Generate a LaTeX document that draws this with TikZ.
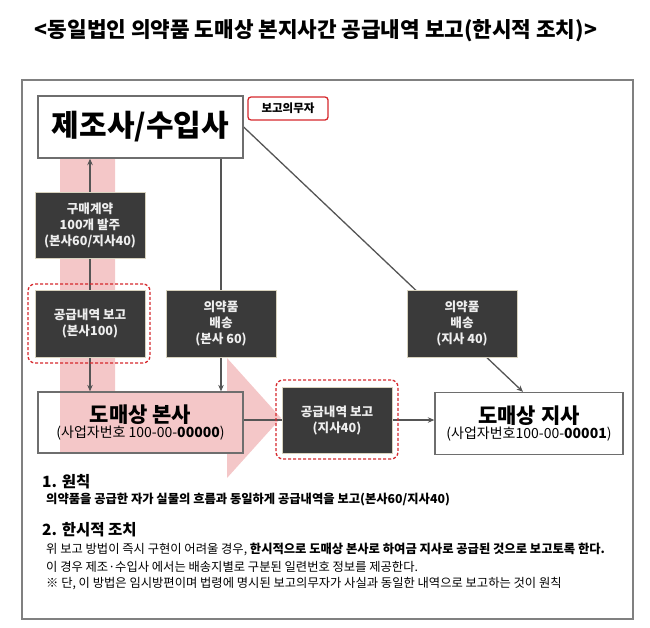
\documentclass[tikz,border=0pt]{standalone}
\usepackage{fontspec}
\setmainfont{Noto Sans CJK KR}
\usetikzlibrary{arrows.meta}
\pgfdeclarelayer{bg}
\pgfsetlayers{bg,main}
\definecolor{pinkA}{RGB}{244,199,200}
\definecolor{dfill}{RGB}{58,58,58}
\definecolor{dborder}{RGB}{215,210,190}
\definecolor{dtext}{RGB}{238,238,238}
\definecolor{redd}{RGB}{214,40,44}
\definecolor{lineg}{RGB}{85,85,85}
\definecolor{boxgray}{RGB}{110,110,110}
\definecolor{framegray}{RGB}{128,128,128}
\begin{document}
\begin{tikzpicture}[x=1pt,y=-1pt,
  darkbox/.style={draw=dborder, line width=1pt, fill=dfill, text=dtext,
    font=\fontsize{12.6}{16}\selectfont\bfseries, align=center,
    minimum width=110pt, minimum height=66pt, inner sep=0pt},
  dashbox/.style={draw=redd, dash pattern=on 3pt off 2pt, line width=1.3pt,
    rounded corners=7pt, minimum width=122pt, minimum height=79pt, inner sep=0pt},
  whitebox/.style={draw=boxgray, line width=1.3pt, align=center, inner sep=0pt},
  conn/.style={draw=lineg, line width=1.3pt},
  arr/.style={conn, -{Stealth[length=6.5pt,width=5.5pt]}},
  heading/.style={anchor=west, inner sep=0pt, font=\fontsize{15.5}{18}\selectfont\bfseries},
  body/.style={anchor=west, inner sep=0pt, font=\fontsize{12.3}{14}\selectfont}
]
\useasboundingbox (0,0) rectangle (650,627);

% title and frame
\node[inner sep=0pt, font=\fontsize{21.3}{25}\selectfont\bfseries] (title) at (316,31)
  {<동일법인 의약품 도매상 본지사간 공급내역 보고(한시적 조치)>};
\draw[framegray, line width=1.8pt] (22,80) rectangle (633,619);

% nodes
\node[whitebox, minimum width=205pt, minimum height=62pt,
  font=\fontsize{30}{32}\selectfont\bfseries] (jejo) at (140.5,127) {제조사/수입사};
\node[draw=redd, line width=1.3pt, rounded corners=3pt, minimum width=80pt,
  minimum height=23pt, inner sep=0pt, font=\fontsize{11.5}{13}\selectfont\bfseries]
  (duty) at (288,108.5) {보고의무자};

\node[darkbox] (order) at (90,225) {구매계약\\100개 발주\\(본사60/지사40)};
\node[darkbox, minimum height=67pt] (rep1) at (90,323.5) {공급내역 보고\\(본사100)};
\node[dashbox] (rep1d) at (89,323.5) {};
\node[darkbox, minimum height=67pt] (ship1) at (221,323.5) {의약품\\배송\\(본사 60)};
\node[darkbox, minimum height=67pt] (ship2) at (462,323.5) {의약품\\배송\\(지사 40)};

\node[whitebox, minimum width=205pt, minimum height=61pt] (bonsa) at (140.5,422.5)
  {{\fontsize{21}{24}\selectfont\bfseries 도매상 본사}\\[0pt]
   {\fontsize{14}{16}\selectfont (사업자번호 100-00-\textbf{00000})}};
\node[darkbox] (rep2) at (337,420) {공급내역 보고\\(지사40)};
\node[dashbox] (rep2d) at (337,419.5) {};
\node[whitebox, minimum width=188pt, minimum height=62pt] (jisa) at (529,423.5)
  {{\fontsize{21}{24}\selectfont\bfseries 도매상 지사}\\[0pt]
   {\fontsize{14}{16}\selectfont (사업자번호100-00-\textbf{00001})}};

% background: pink arrow and connectors
\begin{pgfonlayer}{bg}
  \fill[pinkA] (60,159) -- (115,159) -- (115,392) -- (227,392) -- (227,358)
    -- (281,418) -- (227,478) -- (227,453) -- (60,453) -- cycle;
  \draw[arr] (order.north) -- (order.north |- jejo.south);
  \draw[conn] (order.south) -- (rep1.north);
  \draw[arr] (rep1.south) -- (rep1.south |- bonsa.north);
  \draw[conn] (ship1.north |- jejo.south) -- (ship1.north);
  \draw[arr] (ship1.south) -- (ship1.south |- bonsa.north);
  \draw[arr] (jejo.east) -- ([xshift=-6pt]jisa.north);
  \draw[conn] (bonsa.east |- rep2.west) -- (rep2.west);
  \draw[arr] (rep2.east) -- (rep2.east -| jisa.west);
\end{pgfonlayer}

% text section
\node[heading] (h1) at (42,482) {1. 원칙};
\node[body, font=\fontsize{12.3}{14}\selectfont\bfseries] (t1) at (46,500)
  {의약품을 공급한 자가 실물의 흐름과 동일하게 공급내역을 보고(본사60/지사40)};
\node[heading] (h2) at (42,530) {2. 한시적 조치};
\node[body] (t2) at (46,549)
  {위 보고 방법이 즉시 구현이 어려울 경우, \textbf{한시적으로 도매상 본사로 하여금 지사로 공급된 것으로 보고토록 한다.}};
\node[body] (t3) at (46,567)
  {이 경우 제조·수입사 에서는 배송지별로 구분된 일련번호 정보를 제공한다.};
\node[body] (t4) at (46,584)
  {※ 단, 이 방법은 임시방편이며 법령에 명시된 보고의무자가 사실과 동일한 내역으로 보고하는 것이 원칙};
\end{tikzpicture}
\end{document}
